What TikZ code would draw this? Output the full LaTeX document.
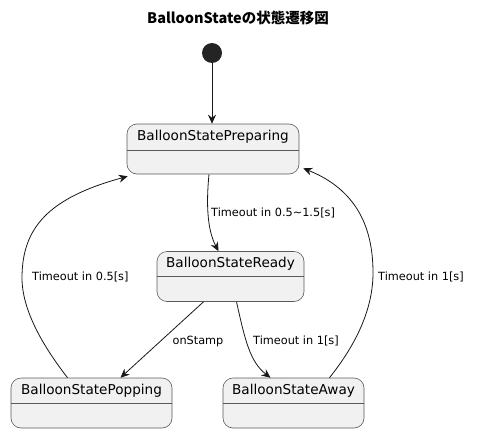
\documentclass[tikz,border=0pt]{standalone}
\usepackage{fontspec}
\setmainfont{DejaVu Sans}
\newfontfamily\cjk{Noto Sans CJK JP}
\usetikzlibrary{arrows.meta}
\definecolor{boxfill}{HTML}{F1F1F1}
\definecolor{boxline}{HTML}{5A5A5A}
\definecolor{edgecol}{HTML}{181818}
\begin{document}
\begin{tikzpicture}[x=1pt,y=-1pt,
  statebox/.style={draw=boxline, fill=boxfill, rounded corners=10pt, line width=0.6pt, minimum height=50pt, inner sep=0pt},
  statename/.style={font=\fontsize{13.6}{15}\selectfont, inner sep=0pt, anchor=center},
  divider/.style={draw=boxline, line width=0.6pt},
  edge/.style={draw=edgecol, line width=0.8pt, -{Stealth[length=9pt,width=8pt,inset=3pt]}},
  elabel/.style={font=\fontsize{11.3}{13}\selectfont, inner sep=0pt, text=black}]
\useasboundingbox (0,0) rectangle (478,433);
\node (title) at (238,18) {\cjk\bfseries\fontsize{14.5}{16}\selectfont BalloonStateの状態遷移図};
\node (init) [circle, fill=edgecol!95!white, minimum size=20pt, inner sep=0pt] at (212,53) {};
% states
\node (prep) [statebox, minimum width=172pt] at (213,149) {};
\node (prepT) [statename] at ([yshift=-13pt]prep.north) {BalloonStatePreparing};
\coordinate (prepD) at ([yshift=-27pt]prep.north);
\draw[divider] (prep.west |- prepD) -- (prep.east |- prepD);

\node (ready) [statebox, minimum width=147pt] at (230.5,276.5) {};
\node (readyT) [statename] at ([yshift=-13pt]ready.north) {BalloonStateReady};
\coordinate (readyD) at ([yshift=-25pt]ready.north);
\draw[divider] (ready.west |- readyD) -- (ready.east |- readyD);

\node (pop) [statebox, minimum width=161pt] at (91.5,403) {};
\node (popT) [statename] at ([yshift=-13pt]pop.north) {BalloonStatePopping};
\coordinate (popD) at ([yshift=-26pt]pop.north);
\draw[divider] (pop.west |- popD) -- (pop.east |- popD);

\node (away) [statebox, minimum width=141pt] at (293.5,403) {};
\node (awayT) [statename] at ([yshift=-13pt]away.north) {BalloonStateAway};
\coordinate (awayD) at ([yshift=-26pt]away.north);
\draw[divider] (away.west |- awayD) -- (away.east |- awayD);

% waypoints of the curved connectors
\coordinate (leftmid) at (22,278);
\coordinate (rightmid) at (373,273);

% edges
\draw[edge] (init) -- (init |- prep.north);
\draw[edge] ([xshift=-4pt]prep.south) .. controls (205,215) and (210,235) .. ([xshift=-12pt]ready.north);
\node (l1) [elabel, anchor=west] at (211,213) {Timeout in 0.5\textasciitilde1.5[s]};
\draw[edge] ([xshift=-27pt]ready.south) -- ([xshift=29pt]pop.north);
\node (l2) [elabel] at (198,341) {onStamp};
\draw[edge] ([xshift=6pt]ready.south) .. controls (245,340) and (250,362) .. ([xshift=-23pt]away.north);
\node (l3) [elabel, anchor=west] at (253,341) {Timeout in 1[s]};
\draw[edge] ([xshift=-24pt]pop.north) .. controls (50,355) and (22,315) .. (leftmid)
  .. controls (22,228) and (48,198) .. ([shift={(1pt,-2pt)}]prep.south west);
\node (l4) [elabel, anchor=west] at (32,277) {Timeout in 0.5[s]};
\draw[edge] ([xshift=36pt]away.north) .. controls (350,352) and (373,315) .. (rightmid)
  .. controls (373,235) and (362,192) .. ([shift={(4pt,6pt)}]prep.south east);
\node (l5) [elabel, anchor=west] at (378,277) {Timeout in 1[s]};
\end{tikzpicture}
\end{document}
